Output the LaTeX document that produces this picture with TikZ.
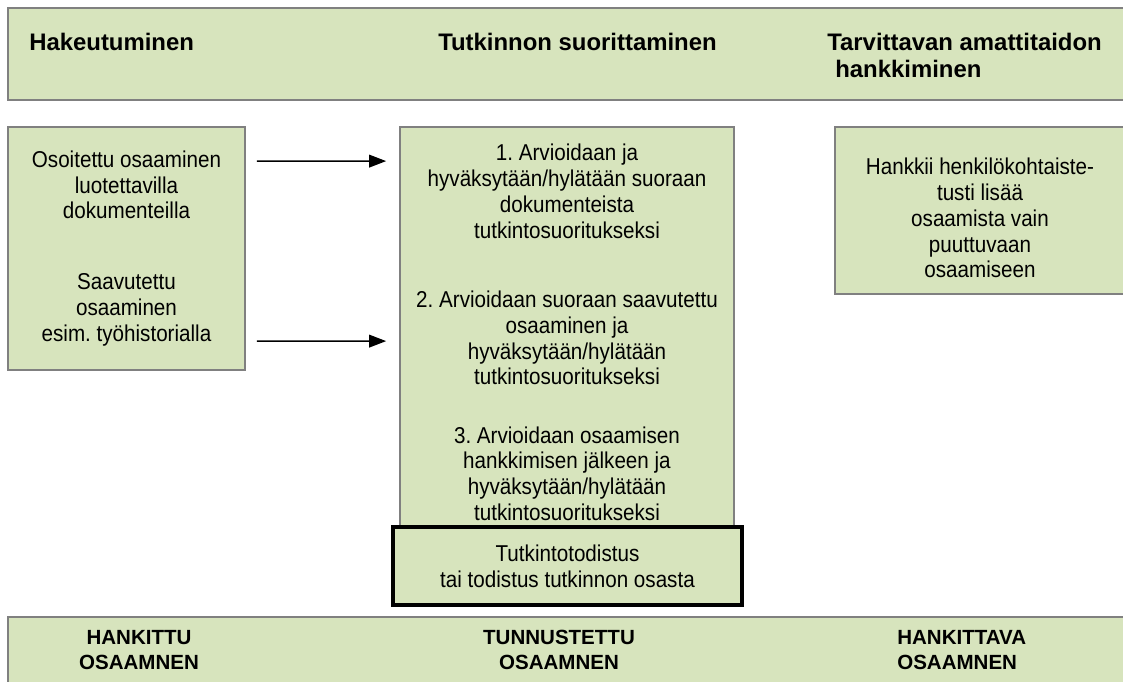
\documentclass[tikz,border=0pt]{standalone}
\usepackage{fontspec}
\setmainfont{Liberation Sans}
\newfontfamily\narrowfont[FakeStretch=0.9]{Liberation Sans}
\usetikzlibrary{arrows.meta,calc}
\definecolor{boxgreen}{HTML}{D7E4BD}
\definecolor{boxgray}{HTML}{808080}
\frenchspacing

\begin{document}
\begin{tikzpicture}[
        x=0.025cm,y=-0.025cm,>=Triangle,
        band/.style={rectangle,draw=boxgray,fill=boxgreen,line width=1.2pt,inner sep=0pt},
        box/.style={band,align=center,
          font=\narrowfont\fontsize{16.3}{18.4}\selectfont},
        certbox/.style={box,draw=black,line width=2.85pt},
        head/.style={inner sep=0pt,align=left,
          font=\bfseries\fontsize{17}{19.2}\selectfont},
        foot/.style={inner sep=0pt,
          font=\bfseries\fontsize{14.6}{17.8}\selectfont},
        flow/.style={-{Triangle[length=12pt,width=9pt]},draw=black,line width=.95pt}
      ]
        \useasboundingbox (0,0) rectangle (1123,682);

        % top and bottom bands
        \node[band,minimum width=28.3cm,minimum height=2.3cm] (topband) at (574,54) {};
        \node[band,minimum width=28.3cm,minimum height=2.575cm] (footband) at (574,668.5) {};

        \node[head,anchor=north west] (hakeu) at (29,32.5) {Hakeutuminen};
        \node[head,anchor=north west] (suorit) at (438,32.5) {Tutkinnon suorittaminen};
        \node[head,anchor=north west] (hankk) at (827,32.5)
          {Tarvittavan amattitaidon\\\hspace*{0.2cm}hankkiminen};

        % boxes
        \node[box,minimum width=5.925cm,minimum height=6.075cm] (lbox) at (126.5,248.5)
          {Osoitettu osaaminen\\luotettavilla\\dokumenteilla\\[32pt]
           Saavutettu\\osaaminen\\esim. työhistorialla};
        \node[box,minimum width=8.35cm,minimum height=10.275cm] (mid) at (567,332.5)
          {1. Arvioidaan ja\\hyväksytään/hylätään suoraan\\dokumenteista\\
           tutkintosuoritukseksi\\[30.7pt]
           2. Arvioidaan suoraan saavutettu\\osaaminen ja\\hyväksytään/hylätään\\
           tutkintosuoritukseksi\\[22.9pt]
           3. Arvioidaan osaamisen\\hankkimisen jälkeen ja\\hyväksytään/hylätään\\
           tutkintosuoritukseksi};
        \node[certbox,minimum width=8.725cm,minimum height=1.95cm] (cert) at (567.5,566)
          {Tutkintotodistus\\tai todistus tutkinnon osasta};
        \node[band,minimum width=7.275cm,minimum height=4.175cm] (rbox) at (980.5,210.5) {};
        \node[box,draw=none,fill=none] (rtext) at (980,218)
          {Hankkii henkilökohtaiste-\\tusti lisää\\osaamista vain\\puuttuvaan\\osaamiseen};

        \draw[flow] ($(lbox.north east)+(11,35)$) -- ($(mid.north west)+(-13,35)$);
        \draw[flow] ($(lbox.north east)+(11,215)$) -- ($(mid.north west)+(-13,215)$);

        % bottom labels
        \node[foot,align=center,anchor=north] (hankittu) at (139,630) {HANKITTU\\OSAAMNEN};
        \node[foot,align=center,anchor=north] (tunnust) at (559,630) {TUNNUSTETTU\\OSAAMNEN};
        \node[foot,align=left,anchor=north west] (hankittava) at (897,630) {HANKITTAVA\\OSAAMNEN};
      \end{tikzpicture}
\end{document}
